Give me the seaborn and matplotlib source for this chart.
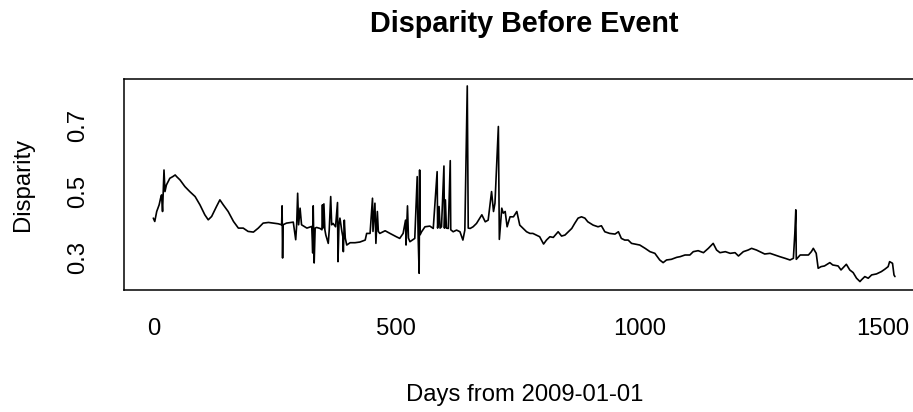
import matplotlib
matplotlib.use("Agg")
import matplotlib.pyplot as plt
import seaborn as sns
import pandas as pd

# Data
days = [0, 3, 7, 12, 15, 17, 19, 22, 24, 27, 34, 40, 45, 48, 55, 65, 75, 86, 96, 106,
        113, 120, 130, 137, 144, 154, 165, 175, 185, 195, 206, 216, 226, 237, 247, 257,
        264, 265, 266, 267, 274, 288, 293, 295, 297, 299, 302, 305, 316, 326, 328, 329,
        331, 333, 336,
        343, 347, 348, 349, 351, 353, 355, 360, 362, 365, 367, 370, 375, 379, 380, 382,
        384, 388, 390, 391, 393, 395, 398, 405, 415, 425, 436, 439, 446, 451, 452, 456,
        458, 461, 463, 466, 477, 487, 500, 507, 514, 519, 520, 523, 525, 528, 538, 543,
        545, 547, 548, 549, 552, 559, 569, 576, 584, 585, 588, 590, 593, 598, 599, 601,
        603, 607, 611, 612, 617, 624, 631, 637, 641, 646, 647, 648, 652, 658, 665, 676,
        683, 689, 696, 700, 703, 710,
        712, 717, 720, 724, 728, 734, 741, 748, 754, 761, 768, 775, 781, 788, 795, 803,
        809, 816, 823, 833, 840, 847, 854, 861, 867, 874, 881, 888, 894, 905, 915, 922,
        929, 939, 950, 957, 963, 970, 977, 984, 991, 1001, 1012, 1022, 1032, 1042, 1049,
        1056, 1066, 1077,
        1084, 1094, 1104, 1111, 1121, 1132, 1142, 1152, 1159, 1166, 1177, 1187, 1197,
        1204, 1214, 1224, 1231, 1241, 1248, 1258, 1269, 1279, 1289, 1300, 1310, 1317,
        1320, 1322, 1323, 1331, 1337, 1348, 1354, 1358, 1364, 1368, 1374, 1381, 1392,
        1398, 1409, 1415, 1426, 1433, 1440, 1447, 1454,
        1457, 1464, 1471, 1478, 1488, 1498, 1505, 1512, 1515, 1521, 1524, 1526]

disparity = [0.420, 0.410, 0.440, 0.460, 0.480, 0.490, 0.440, 0.565, 0.500, 0.520, 0.540,
             0.545, 0.550, 0.545, 0.535, 0.515, 0.500, 0.485, 0.460, 0.430, 0.415, 0.425,
             0.455, 0.475, 0.460, 0.440, 0.410, 0.390, 0.390, 0.380, 0.378, 0.390, 0.405,
             0.407, 0.405, 0.403, 0.400, 0.457, 0.300, 0.400, 0.405, 0.408, 0.355, 0.400,
             0.495, 0.400, 0.450, 0.400, 0.390, 0.395, 0.315, 0.457, 0.285, 0.390, 0.392,
             0.389, 0.385, 0.460, 0.390, 0.463, 0.385, 0.369, 0.344, 0.385, 0.485, 0.400,
             0.404, 0.394, 0.467, 0.289, 0.400, 0.420, 0.380, 0.364, 0.319, 0.414, 0.360,
             0.339, 0.346, 0.346, 0.348, 0.354, 0.374, 0.374, 0.480, 0.380, 0.465, 0.344,
             0.440, 0.380, 0.374, 0.382, 0.374, 0.364, 0.359, 0.374, 0.414, 0.339, 0.457,
             0.360, 0.349, 0.359, 0.545, 0.360, 0.254, 0.565, 0.370, 0.379, 0.394, 0.396,
             0.389, 0.560, 0.390, 0.455, 0.390, 0.394, 0.577, 0.390, 0.475, 0.390, 0.389,
             0.593, 0.385, 0.379, 0.384, 0.379, 0.354, 0.384, 0.818, 0.585, 0.390, 0.389,
             0.394, 0.404, 0.430, 0.409, 0.414, 0.500, 0.440, 0.465, 0.696,
             0.356, 0.450, 0.435, 0.440, 0.394, 0.424, 0.424, 0.440, 0.399, 0.389, 0.379,
             0.374, 0.374, 0.369, 0.364, 0.342, 0.354, 0.364, 0.362, 0.379, 0.366, 0.369,
             0.379, 0.389, 0.404, 0.420, 0.424, 0.420, 0.409, 0.399, 0.394, 0.397, 0.379,
             0.374, 0.372, 0.379, 0.359, 0.354, 0.354, 0.344, 0.342, 0.339, 0.329, 0.319,
             0.314, 0.294, 0.286, 0.294, 0.296, 0.302,
             0.304, 0.309, 0.309, 0.319, 0.322, 0.316, 0.329, 0.344, 0.324, 0.316, 0.319,
             0.314, 0.316, 0.306, 0.319, 0.324, 0.329, 0.324, 0.319, 0.312, 0.314, 0.309,
             0.304, 0.299, 0.294, 0.299, 0.374, 0.445, 0.296, 0.309, 0.309, 0.309, 0.319,
             0.329, 0.314, 0.269, 0.274, 0.276, 0.286, 0.279, 0.276, 0.264, 0.281, 0.264,
             0.256, 0.239, 0.229,
             0.234, 0.244, 0.239, 0.249, 0.252, 0.259, 0.266, 0.274, 0.289, 0.284, 0.249,
             0.244]

x_ticks = [0, 500, 1000, 1500]
y_ticks = [0.3, 0.4, 0.5, 0.6, 0.7, 0.8]
y_tick_labels = ["0.3", "", "0.5", "", "0.7", ""]

title = "Disparity Before Event"
x_label = "Days from 2009-01-01"
y_label = "Disparity"

df = pd.DataFrame({"day": days, "disparity": disparity})

sns.set_theme(style="white")
plt.rcParams["font.family"] = ["Liberation Sans", "DejaVu Sans"]

W, H = 913, 412
fig = plt.figure(figsize=(W / 100, H / 100), dpi=100)
left_px, right_px, top_px, bottom_px = 124, 924.6, 79, 290
ax = fig.add_axes([left_px / W, (H - bottom_px) / H,
                   (right_px - left_px) / W, (bottom_px - top_px) / H])

sns.lineplot(data=df, x="day", y="disparity", ax=ax, color="black",
             linewidth=1.2, estimator=None, sort=False)

ax.set_xlim(-60.3, 1587)
ax.set_ylim(0.2036, 0.839)
ax.set_xticks(x_ticks)
ax.set_xticklabels([str(t) for t in x_ticks])
ax.set_yticks(y_ticks)
ax.set_yticklabels(y_tick_labels, rotation=90, va="center")

for s in ax.spines.values():
    s.set_color("black")
    s.set_linewidth(1.1)

ax.tick_params(axis="both", direction="out", length=8.6, width=1.0,
               color="black", labelsize=17.2, labelcolor="black")
ax.tick_params(axis="x", pad=11.5)
ax.tick_params(axis="y", pad=16.5)

ax.set_xlabel(x_label, fontsize=17.2, labelpad=32, color="black")
ax.set_ylabel(y_label, fontsize=17.2, labelpad=24, color="black")
ax.set_title(title, fontsize=20.7, fontweight="bold", pad=33.5, color="black")

fig.savefig("out.png", dpi=100)
